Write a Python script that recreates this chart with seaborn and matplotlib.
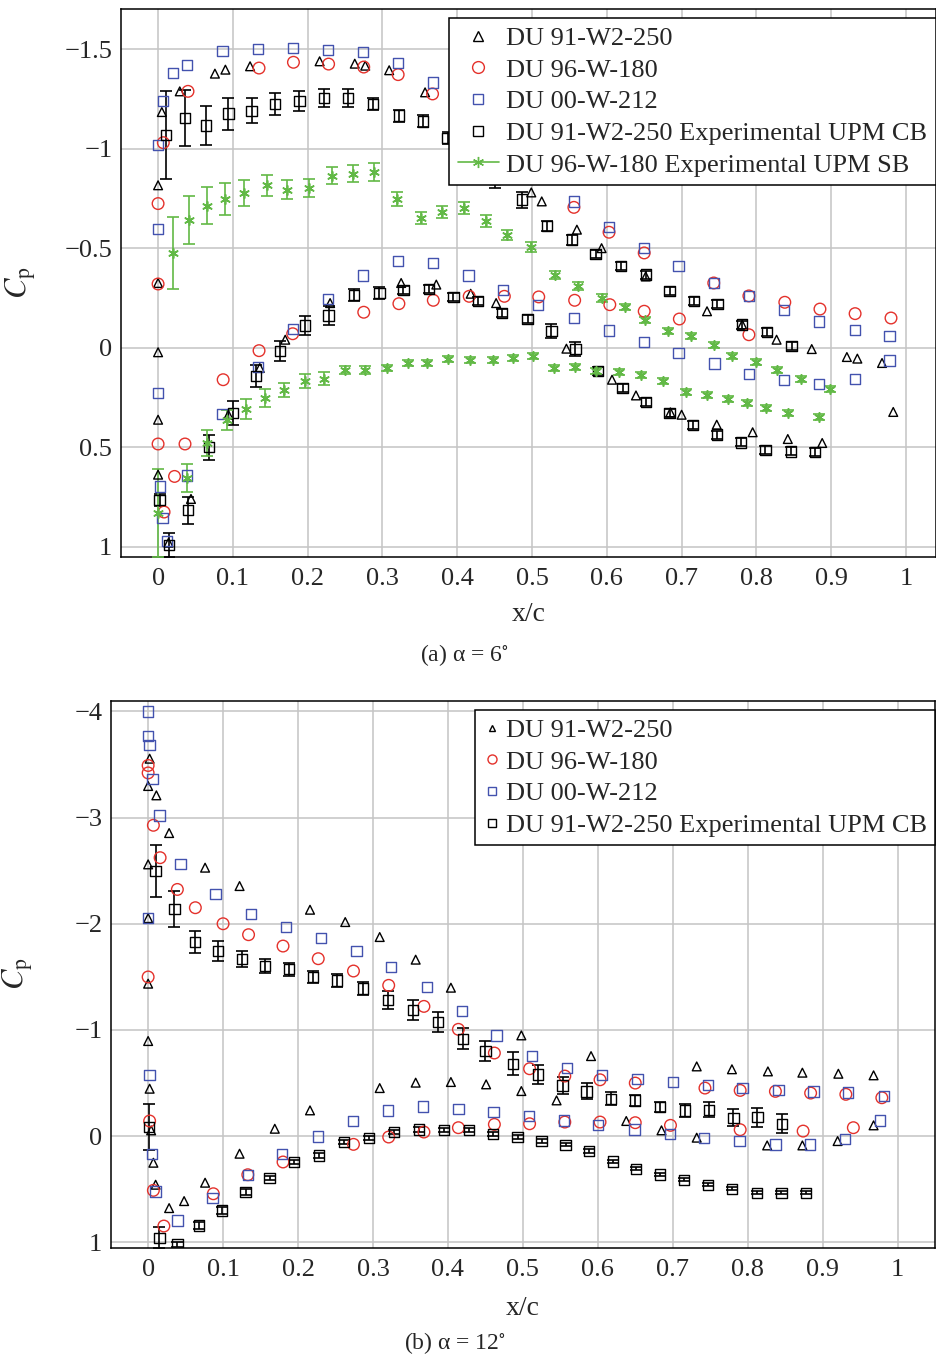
import matplotlib
matplotlib.use("Agg")
import matplotlib.pyplot as plt
from matplotlib.lines import Line2D
from matplotlib.ticker import FuncFormatter, MultipleLocator
import seaborn as sns

# ---------------- alpha = 6 deg ----------------
tri6_x = [0, 0.005, 0.029, 0.076, 0.09, 0.123, 0.216, 0.263, 0.277, 0.309, 0.357, 0.499, 0.513,
          0.56, 0.593, 0.652, 0.734, 0.781, 0.827, 0.874, 0.921, 0.935, 0.968,
          0, 0, 0, 0, 0.014, 0.044, 0.094, 0.136, 0.17, 0.23, 0.325, 0.372, 0.418, 0.452, 0.546,
          0.607, 0.639, 0.685, 0.7, 0.747, 0.795, 0.842, 0.888, 0.983]
tri6_cp = [-0.816, -1.184, -1.288, -1.377, -1.397, -1.414, -1.439, -1.427, -1.417, -1.394, -1.283,
           -0.78, -0.735, -0.593, -0.50, -0.358, -0.183, -0.116, -0.04, 0.007, 0.047, 0.055, 0.077,
           -0.325, 0.023, 0.362, 0.638, 0.98, 0.76, 0.337, 0.102, -0.04, -0.224, -0.325, -0.317,
           -0.271, -0.224, 0.005, 0.161, 0.24, 0.325, 0.337, 0.387, 0.425, 0.459, 0.479, 0.323]

cir6_x = [0, 0, 0.007, 0.04, 0.135, 0.181, 0.228, 0.275, 0.321, 0.367, 0.556, 0.603, 0.65, 0.743,
          0.79, 0.838, 0.885, 0.932, 0.98,
          0, 0.036, 0.022, 0.008, 0.087, 0.135, 0.18, 0.275, 0.322, 0.368, 0.416, 0.463, 0.509,
          0.557, 0.604, 0.65, 0.697, 0.79]
cir6_cp = [-0.32, -0.724, -1.03, -1.288, -1.405, -1.434, -1.425, -1.41, -1.372, -1.275, -0.705,
           -0.58, -0.476, -0.325, -0.26, -0.228, -0.194, -0.171, -0.149,
           0.484, 0.484, 0.647, 0.826, 0.161, 0.015, -0.07, -0.178, -0.221, -0.238, -0.258, -0.258,
           -0.255, -0.238, -0.216, -0.183, -0.144, -0.065]

sq6_x = [0, 0.007, 0.02, 0.039, 0.086, 0.134, 0.18, 0.227, 0.274, 0.321, 0.368, 0.556, 0.603, 0.65,
         0.696, 0.743, 0.79, 0.837, 0.884, 0.932, 0.978,
         0, 0, 0.003, 0.039, 0.006, 0.012, 0.086, 0.134, 0.18, 0.227, 0.274, 0.321, 0.368, 0.415,
         0.461, 0.508, 0.556, 0.603, 0.65, 0.696, 0.744, 0.79, 0.837, 0.884, 0.932, 0.978]
sq6_cp = [-1.02, -1.238, -1.38, -1.419, -1.489, -1.50, -1.506, -1.494, -1.486, -1.43, -1.333, -0.735,
          -0.605, -0.50, -0.409, -0.325, -0.26, -0.188, -0.132, -0.09, -0.057,
          -0.596, 0.228, 0.697, 0.643, 0.856, 0.973, 0.332, 0.097, -0.094, -0.245, -0.363, -0.434,
          -0.425, -0.363, -0.291, -0.216, -0.149, -0.087, -0.028, 0.027, 0.08, 0.131, 0.164, 0.183,
          0.157, 0.065]

cb6_x = [0.011, 0.036, 0.064, 0.094, 0.125, 0.156, 0.189, 0.222, 0.254, 0.287, 0.322, 0.354, 0.387,
         0.45, 0.487, 0.52, 0.553, 0.585, 0.619, 0.652, 0.684, 0.717, 0.748, 0.781, 0.814, 0.847,
         0.002, 0.015, 0.04, 0.068, 0.1, 0.131, 0.163, 0.196, 0.228, 0.262, 0.296, 0.328, 0.362,
         0.395, 0.428, 0.46, 0.494, 0.526, 0.558, 0.588, 0.621, 0.652, 0.684, 0.715, 0.747, 0.779,
         0.812, 0.846, 0.878]
cb6_cp = [-1.07, -1.154, -1.116, -1.176, -1.19, -1.226, -1.238, -1.255, -1.255, -1.224, -1.166,
          -1.137, -1.054, -0.85, -0.744, -0.61, -0.543, -0.472, -0.409, -0.367, -0.283, -0.233,
          -0.219, -0.116, -0.079, -0.007,
          0.767, 0.99, 0.817, 0.50, 0.328, 0.144, 0.018, -0.112, -0.161, -0.263, -0.275, -0.291,
          -0.295, -0.255, -0.233, -0.174, -0.144, -0.082, 0.007, 0.119, 0.203, 0.273, 0.328, 0.39,
          0.437, 0.476, 0.513, 0.521, 0.526]
cb6_err = [0.22, 0.14, 0.10, 0.08, 0.063, 0.055, 0.05, 0.045, 0.045, 0.03, 0.03, 0.03, 0.03, 0.05,
           0.04, 0.025, 0.025, 0.02, 0.02, 0.02, 0.02, 0.02, 0.02, 0.02, 0.02, 0.02,
           0.03, 0.06, 0.067, 0.063, 0.06, 0.056, 0.05, 0.047, 0.046, 0.03, 0.03, 0.02, 0.02, 0.02,
           0.02, 0.02, 0.02, 0.035, 0.035, 0.02, 0.02, 0.02, 0.02, 0.02, 0.02, 0.02, 0.02, 0.02, 0.02]

sb6_x = [0.02, 0.041, 0.066, 0.09, 0.115, 0.146, 0.173, 0.202, 0.232, 0.261, 0.289, 0.32, 0.352,
         0.38, 0.409, 0.438, 0.466, 0.499, 0.531, 0.561, 0.593, 0.624, 0.651, 0.682, 0.712, 0.743,
         0.768, 0.8, 0.828, 0.859, 0.899,
         0, 0.039, 0.065, 0.092, 0.117, 0.143, 0.168, 0.196, 0.222, 0.25, 0.277, 0.306, 0.334,
         0.359, 0.388, 0.417, 0.448, 0.474, 0.501, 0.529, 0.558, 0.586, 0.616, 0.646, 0.675, 0.706,
         0.734, 0.762, 0.787, 0.813, 0.842, 0.884]
sb6_cp = [-0.476, -0.64, -0.714, -0.747, -0.777, -0.816, -0.794, -0.802, -0.864, -0.874, -0.883,
          -0.747, -0.652, -0.682, -0.702, -0.635, -0.568, -0.506, -0.367, -0.312, -0.25, -0.204,
          -0.137, -0.085, -0.057, -0.015, 0.04, 0.072, 0.114, 0.156, 0.206,
          0.83, 0.655, 0.479, 0.362, 0.307, 0.253, 0.211, 0.169, 0.156, 0.114, 0.114, 0.102, 0.077,
          0.077, 0.055, 0.06, 0.064, 0.052, 0.044, 0.102, 0.097, 0.119, 0.124, 0.139, 0.169, 0.223,
          0.236, 0.256, 0.278, 0.303, 0.328, 0.35]
sb6_err = [0.18, 0.12, 0.094, 0.08, 0.067, 0.053, 0.047, 0.044, 0.044, 0.043, 0.044, 0.035, 0.03,
           0.03, 0.03, 0.03, 0.025, 0.025, 0.02, 0.02, 0.02, 0.015, 0.015, 0.015, 0.015, 0.015,
           0.015, 0.015, 0.015, 0.015, 0.015,
           0.22, 0.07, 0.065, 0.05, 0.05, 0.045, 0.035, 0.035, 0.033, 0.02, 0.02, 0.015, 0.015,
           0.015, 0.015, 0.015, 0.015, 0.015, 0.015, 0.015, 0.015, 0.015, 0.015, 0.015, 0.015,
           0.015, 0.015, 0.015, 0.015, 0.015, 0.015, 0.015]

# ---------------- alpha = 12 deg ----------------
tri12_x = [0, 0, 0, 0, 0.002, 0.011, 0.028, 0.076, 0.122, 0.216, 0.263, 0.309, 0.357, 0.404,
           0.498, 0.591, 0.732, 0.779, 0.827, 0.873, 0.921, 0.968,
           0, 0.002, 0.004, 0.007, 0.01, 0.028, 0.048, 0.076, 0.122, 0.169, 0.216, 0.309, 0.357,
           0.404, 0.451, 0.498, 0.545, 0.638, 0.685, 0.732, 0.826, 0.873, 0.92, 0.968]
tri12_cp = [-1.436, -2.053, -2.559, -3.297, -3.554, -3.209, -2.854, -2.528, -2.355, -2.132, -2.016,
            -1.875, -1.662, -1.398, -0.949, -0.754, -0.657, -0.63, -0.61, -0.598, -0.588, -0.573,
            -0.896, -0.447, -0.055, 0.25, 0.457, 0.677, 0.611, 0.438, 0.165, -0.07, -0.243,
            -0.453, -0.504, -0.51, -0.488, -0.425, -0.337, -0.143, -0.055, 0.014, 0.087, 0.087,
            0.046, -0.102]

cir12_x = [0, 0, 0.007, 0.016, 0.039, 0.063, 0.1, 0.134, 0.18, 0.227, 0.274, 0.321, 0.368, 0.414,
           0.462, 0.509, 0.556, 0.603, 0.65, 0.743, 0.79, 0.837, 0.884, 0.931, 0.979,
           0, 0.002, 0.007, 0.021, 0.087, 0.133, 0.18, 0.274, 0.321, 0.368, 0.414, 0.462, 0.509,
           0.556, 0.603, 0.65, 0.697, 0.79, 0.874, 0.941]
cir12_cp = [-3.49, -3.42, -2.927, -2.622, -2.323, -2.151, -2.0, -1.897, -1.79, -1.671, -1.555,
            -1.42, -1.222, -1.006, -0.783, -0.635, -0.566, -0.531, -0.5, -0.453, -0.431, -0.422,
            -0.406, -0.394, -0.362,
            -1.499, -0.143, 0.51, 0.846, 0.542, 0.363, 0.243, 0.077, 0.008, -0.039, -0.08, -0.111,
            -0.117, -0.133, -0.133, -0.127, -0.102, -0.061, -0.048, -0.08]

sq12_x = [0, 0, 0.002, 0.006, 0.015, 0.043, 0.09, 0.137, 0.184, 0.231, 0.278, 0.324, 0.372, 0.419,
          0.465, 0.512, 0.559, 0.606, 0.653, 0.7, 0.747, 0.793, 0.841, 0.888, 0.934, 0.982,
          0, 0.002, 0.005, 0.01, 0.039, 0.086, 0.133, 0.179, 0.227, 0.273, 0.32, 0.367, 0.414,
          0.461, 0.508, 0.555, 0.6, 0.649, 0.696, 0.742, 0.789, 0.837, 0.883, 0.93, 0.977]
sq12_cp = [-3.999, -3.765, -3.686, -3.366, -3.02, -2.565, -2.283, -2.094, -1.969, -1.866, -1.743,
           -1.593, -1.404, -1.178, -0.949, -0.754, -0.641, -0.579, -0.541, -0.51, -0.485, -0.456,
           -0.437, -0.422, -0.41, -0.378,
           -2.053, -0.573, 0.171, 0.52, 0.793, 0.583, 0.363, 0.165, 0.002, -0.143, -0.243, -0.28,
           -0.259, -0.227, -0.19, -0.149, -0.102, -0.064, -0.023, 0.014, 0.046, 0.077, 0.077,
           0.024, -0.149]

cb12_x = [0.01, 0.035, 0.063, 0.093, 0.125, 0.156, 0.188, 0.22, 0.252, 0.287, 0.32, 0.353, 0.387,
          0.42, 0.45, 0.487, 0.52, 0.553, 0.585, 0.618, 0.65, 0.683, 0.716, 0.748, 0.781, 0.813,
          0.846,
          0.001, 0.015, 0.039, 0.068, 0.099, 0.13, 0.162, 0.195, 0.228, 0.261, 0.295, 0.328, 0.361,
          0.395, 0.428, 0.46, 0.493, 0.525, 0.557, 0.588, 0.62, 0.651, 0.683, 0.715, 0.747, 0.779,
          0.812, 0.845, 0.878]
cb12_cp = [-2.497, -2.142, -1.828, -1.743, -1.671, -1.602, -1.571, -1.499, -1.467, -1.389, -1.279,
           -1.185, -1.075, -0.918, -0.802, -0.682, -0.582, -0.478, -0.422, -0.353, -0.337, -0.274,
           -0.243, -0.249, -0.174, -0.18, -0.117,
           -0.086, 0.956, 1.02, 0.84, 0.699, 0.526, 0.394, 0.243, 0.181, 0.055, 0.018, -0.039,
           -0.064, -0.061, -0.055, -0.023, 0.008, 0.046, 0.08, 0.14, 0.237, 0.307, 0.36, 0.41,
           0.457, 0.495, 0.532, 0.532, 0.532]
cb12_err = [0.245, 0.17, 0.1, 0.09, 0.075, 0.07, 0.06, 0.06, 0.06, 0.06, 0.085, 0.095, 0.09, 0.1,
            0.095, 0.11, 0.09, 0.08, 0.075, 0.06, 0.05, 0.05, 0.06, 0.07, 0.08, 0.09, 0.09,
            0.22, 0.1, 0.02, 0.03, 0.03, 0.03, 0.02, 0.02, 0.02, 0.02, 0.02, 0.02, 0.02, 0.02, 0.02,
            0.02, 0.015, 0.015, 0.015, 0.015, 0.015, 0.015, 0.015, 0.015, 0.015, 0.015, 0.015,
            0.015, 0.015]

x_ticks = [0, 0.1, 0.2, 0.3, 0.4, 0.5, 0.6, 0.7, 0.8, 0.9, 1.0]
labels = ["DU 91-W2-250", "DU 96-W-180", "DU 00-W-212",
          "DU 91-W2-250 Experimental UPM CB", "DU 96-W-180 Experimental UPM SB"]

RED = "#e4312b"
BLUE = "#4352ae"
GREEN = "#62b946"
ASTER = (6, 2, 0)


def fmt(v, pos):
    return ("%g" % v).replace("-", "\u2212")


def open_scatter(ax, x, y, marker, color, size):
    sns.scatterplot(x=x, y=y, ax=ax, marker=marker, s=size, facecolor="none",
                    edgecolor=color, linewidth=1.0, zorder=4)


def style_axes(ax, ylim, ystep):
    ax.set_xlim(-0.05, 1.04)
    ax.set_ylim(*ylim)
    ax.set_xticks(x_ticks)
    ax.yaxis.set_major_locator(MultipleLocator(ystep))
    ax.xaxis.set_major_formatter(FuncFormatter(fmt))
    ax.yaxis.set_major_formatter(FuncFormatter(fmt))
    ax.grid(True, color="#c4c4c4", lw=1.1)
    ax.set_axisbelow(True)
    ax.tick_params(direction="in", length=0, labelsize=19)
    ax.tick_params(axis="x", pad=8)
    ax.tick_params(axis="y", pad=6)
    for sp in ax.spines.values():
        sp.set_color("black")
        sp.set_linewidth(1.1)
    ax.set_xlabel("x/c", fontsize=20)
    ax.set_ylabel(r"$C_{\mathrm{p}}$", fontsize=22)


sns.set_theme(style="whitegrid")
plt.rcParams["font.family"] = ["Liberation Serif", "DejaVu Serif"]
plt.rcParams["mathtext.fontset"] = "stix"

fig = plt.figure(figsize=(9.37, 13.54), dpi=100)
ax1 = fig.add_axes([0.1288, 0.5889, 0.870, 0.4042])
ax2 = fig.add_axes([0.1181, 0.0785, 0.8798, 0.4040])

# top panel
ax1.errorbar(cb6_x, cb6_cp, yerr=cb6_err, fmt="none", ecolor="black", elinewidth=1.2,
             capsize=4, capthick=1.2, zorder=3)
ax1.errorbar(sb6_x, sb6_cp, yerr=sb6_err, fmt="none", ecolor=GREEN, elinewidth=1.2,
             capsize=4, capthick=1.2, zorder=3)
open_scatter(ax1, tri6_x, tri6_cp, "^", "black", 40)
open_scatter(ax1, cir6_x, cir6_cp, "o", RED, 70)
open_scatter(ax1, sq6_x, sq6_cp, "s", BLUE, 55)
open_scatter(ax1, cb6_x, cb6_cp, "s", "black", 55)
sns.scatterplot(x=sb6_x, y=sb6_cp, ax=ax1, marker=ASTER, s=45, color=GREEN, linewidth=1.2,
                zorder=4)
style_axes(ax1, (1.05, -1.7), 0.5)
ax1.yaxis.set_label_coords(-0.101, 0.5)
ax1.xaxis.set_label_coords(0.5, -0.082)

h1 = [Line2D([], [], ls="none", marker="^", ms=7, mfc="none", mec="black"),
      Line2D([], [], ls="none", marker="o", ms=8.5, mfc="none", mec=RED),
      Line2D([], [], ls="none", marker="s", ms=7.5, mfc="none", mec=BLUE),
      Line2D([], [], ls="none", marker="s", ms=7.5, mfc="none", mec="black"),
      Line2D([], [], color=GREEN, lw=1.2, marker=ASTER, ms=8, mec=GREEN)]
leg1 = ax1.legend(h1, labels, loc="upper right", bbox_to_anchor=(1.0, 0.984), borderaxespad=0,
                  fontsize=19, frameon=True, fancybox=False, framealpha=1, edgecolor="black",
                  handlelength=1.55, handletextpad=0.3, labelspacing=0.31, borderpad=0.32)
leg1.get_frame().set_linewidth(1.1)

# bottom panel
ax2.errorbar(cb12_x, cb12_cp, yerr=cb12_err, fmt="none", ecolor="black", elinewidth=1.2,
             capsize=4, capthick=1.2, zorder=3)
open_scatter(ax2, tri12_x, tri12_cp, "^", "black", 40)
open_scatter(ax2, cir12_x, cir12_cp, "o", RED, 70)
open_scatter(ax2, sq12_x, sq12_cp, "s", BLUE, 55)
open_scatter(ax2, cb12_x, cb12_cp, "s", "black", 55)
style_axes(ax2, (1.05, -4.1), 1)
ax2.set_xlim(-0.05, 1.05)
ax2.yaxis.set_label_coords(-0.092, 0.5)
ax2.xaxis.set_label_coords(0.5, -0.088)

h2 = [Line2D([], [], ls="none", marker="^", ms=5, mfc="none", mec="black"),
      Line2D([], [], ls="none", marker="o", ms=6.5, mfc="none", mec=RED),
      Line2D([], [], ls="none", marker="s", ms=6, mfc="none", mec=BLUE),
      Line2D([], [], ls="none", marker="s", ms=6, mfc="none", mec="black")]
leg2 = ax2.legend(h2, labels[:4], loc="upper right", bbox_to_anchor=(1.0, 0.983),
                  borderaxespad=0, fontsize=19, frameon=True, fancybox=False, framealpha=1,
                  edgecolor="black", handlelength=0.7, handletextpad=0.15, labelspacing=0.31,
                  borderpad=0.32)
leg2.get_frame().set_linewidth(1.1)

fig.text(0.496, 0.516, r"(a) α = 6$^{\circ}$", ha="center", va="center", fontsize=17)
fig.text(0.486, 0.0081, r"(b) α = 12$^{\circ}$", ha="center", va="center", fontsize=17)

fig.savefig("out.png", dpi=100)
